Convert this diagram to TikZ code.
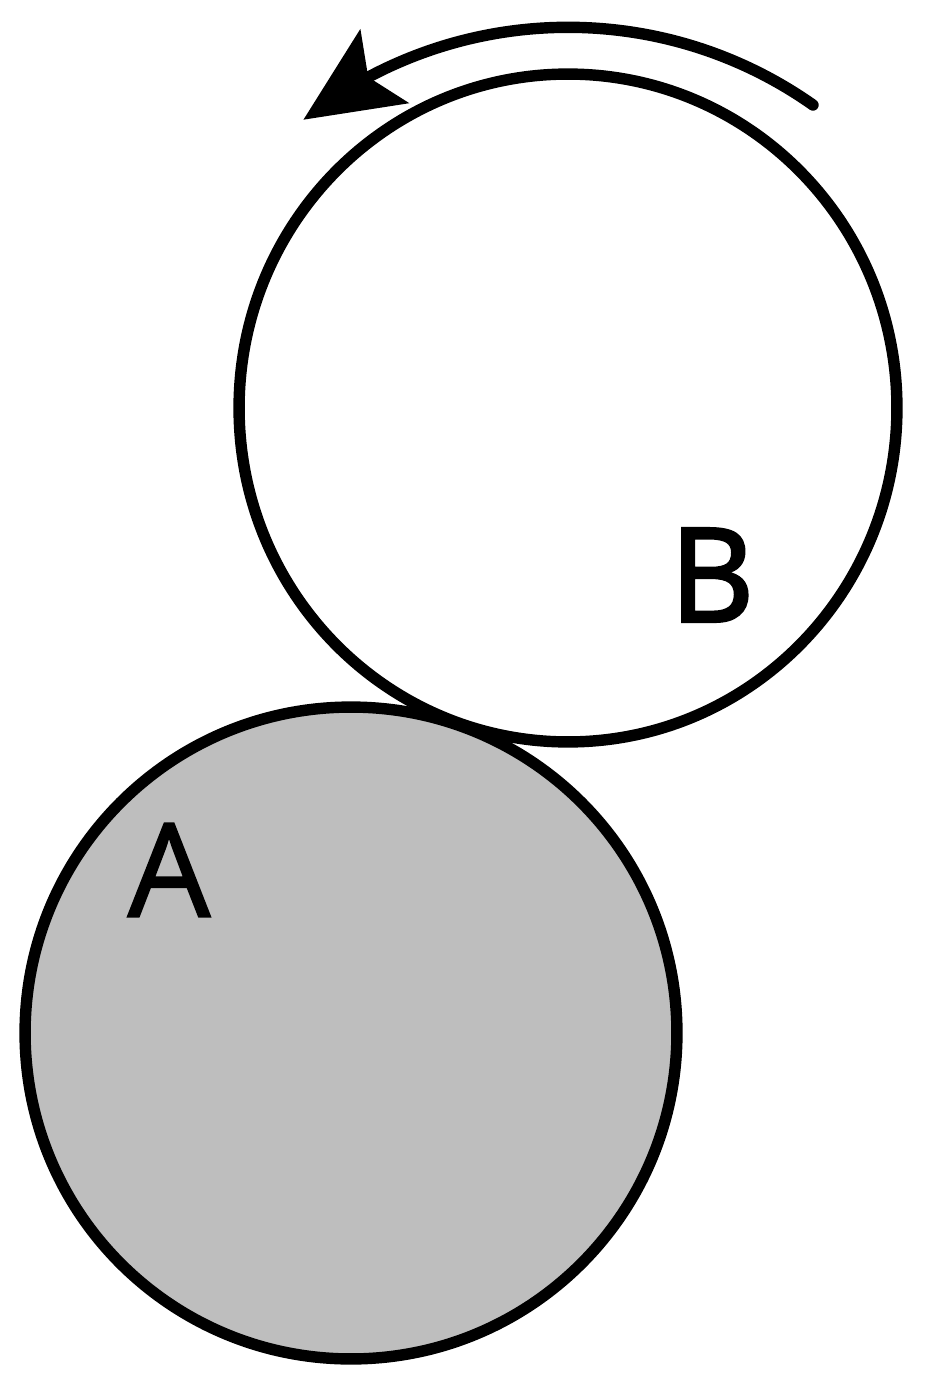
\documentclass[tikz,border=0pt]{standalone}
\usepackage{fontspec}
\setmainfont{Open Sans}
\newfontfamily\lettera{Open Sans}[FakeBold=1.5]
\newfontfamily\letterb{Open Sans}[FakeBold=2.5]
\usetikzlibrary{arrows.meta, bending, shapes.geometric}
\definecolor{discgray}{gray}{0.745}

\begin{document}
\begin{tikzpicture}[x=0.02cm, y=-0.02cm, line width=6.5pt,
    disc/.style={draw, ellipse, inner sep=0pt},
    letter/.style={inner sep=0pt, font=\fontsize{74}{80}\selectfont}]
    \useasboundingbox (0,0) rectangle (924,1389);
    \node[disc, fill=discgray, minimum width=13.04cm, minimum height=13.04cm] (A) at (351,1033) {};
    \node[disc, minimum width=13.16cm, minimum height=13.36cm] (B) at (568,408) {};
    \node[letter] (labA) at (169,870) {\lettera A};
    \node[letter] (labB) at (712,575) {\letterb B};
    \draw[line cap=round, -{Stealth[flex, length=1.95cm, width=1.78cm, inset=0.4cm, line width=0pt]}]
        (813,105) arc[start angle=-54.8, end angle=-128.5, radius=425];
\end{tikzpicture}
\end{document}
